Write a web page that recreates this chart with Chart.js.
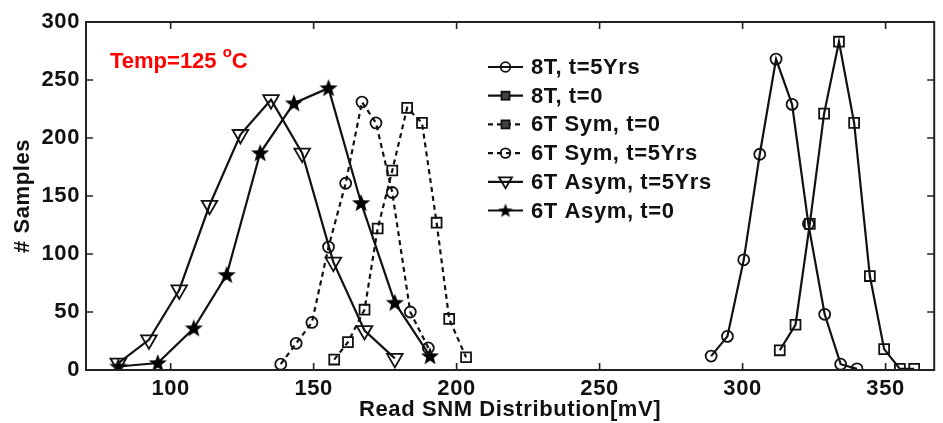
<!DOCTYPE html>
<html>
<head>
<meta charset="utf-8">
<script src="https://cdn.jsdelivr.net/npm/chart.js@4/dist/chart.umd.min.js"></script>
<style>
  html, body { margin: 0; padding: 0; background: #fff; overflow: hidden; }
  #wrap { width: 946px; height: 423px; }
</style>
</head>
<body>
<div id="wrap"><canvas id="snm-chart" width="946" height="423"></canvas></div>
<script>
// Datos: Read SNM (mV) y número de muestras
const seriesNames = ['8T, t=5Yrs', '8T, t=0', '6T Sym, t=0', '6T Sym, t=5Yrs', '6T Asym, t=5Yrs', '6T Asym, t=0'];

const snm8T5y = [289, 294.7, 300.4, 306, 311.7, 317.3, 323, 328.7, 334.3, 340];
const cnt8T5y = [12, 29, 95, 186, 268, 229, 126, 48, 5, 1];

const snm8T0 = [313, 318.5, 323.5, 328.5, 333.7, 339, 344.5, 349.5, 355, 360];
const cnt8T0 = [17, 39, 126, 221, 283, 213, 81, 18, 1, 1];

const snmSym0 = [157.2, 162, 167.8, 172.4, 177.5, 182.7, 187.9, 193, 197.4, 203.3];
const cntSym0 = [9, 24, 52, 122, 172, 226, 213, 127, 44, 11];

const snmSym5y = [138.5, 143.9, 149.4, 155.2, 161.2, 166.9, 171.8, 177.5, 183.8, 190.1];
const cntSym5y = [5, 23, 41, 106, 161, 231, 213, 153, 50, 19];

const snmAsym5y = [81.7, 92.4, 103, 113.6, 124.4, 135.1, 146, 156.9, 167.8, 178.4];
const cntAsym5y = [6, 26, 69, 142, 203, 233, 187, 93, 34, 10];

const snmAsym0 = [81.7, 95.5, 108.1, 119.6, 131.3, 143.1, 155.2, 166.6, 178.4, 190.7];
const cntAsym0 = [3, 6, 36, 82, 187, 230, 243, 144, 58, 12];

const xTicks = [100, 150, 200, 250, 300, 350];
const yTicks = [0, 50, 100, 150, 200, 250, 300];

const FONT_FAMILY = '"Liberation Sans", Arial, Helvetica, sans-serif';

// Estrella rellena de 5 puntas como imagen para pointStyle
function makeStar(size) {
  const c = document.createElement('canvas');
  c.width = size; c.height = size;
  const g = c.getContext('2d');
  const cx = size / 2, cy = size / 2 + 0.5;
  const ro = size / 2 - 0.5, ri = ro * 0.42;
  g.beginPath();
  for (let i = 0; i < 10; i++) {
    const r = i % 2 ? ri : ro;
    const a = -Math.PI / 2 + i * Math.PI / 5;
    g.lineTo(cx + r * Math.cos(a), cy + r * Math.sin(a));
  }
  g.closePath();
  g.fillStyle = '#000';
  g.fill();
  return c;
}
const starBig = makeStar(20);
const starSmall = makeStar(16);

const styles = [
  { pointStyle: 'circle', radius: 5.5, dash: [] },
  { pointStyle: 'rect', radius: 7, dash: [] },
  { pointStyle: 'rect', radius: 7, dash: [5, 4] },
  { pointStyle: 'circle', radius: 5.5, dash: [5, 4] },
  { pointStyle: 'triangle', radius: 9, rotation: 180, dash: [] },
  { pointStyle: starBig, radius: 10, dash: [] }
];

const xs = [snm8T5y, snm8T0, snmSym0, snmSym5y, snmAsym5y, snmAsym0];
const ys = [cnt8T5y, cnt8T0, cntSym0, cntSym5y, cntAsym5y, cntAsym0];

const datasets = seriesNames.map(function(name, i) {
  const st = styles[i];
  return {
    label: name,
    data: xs[i].map(function(v, j) { return { x: v, y: ys[i][j] }; }),
    borderColor: '#111',
    borderWidth: 2.2,
    borderDash: st.dash,
    tension: 0,
    fill: false,
    pointStyle: st.pointStyle,
    pointRadius: st.radius,
    pointRotation: st.rotation || 0,
    pointBorderColor: '#111',
    pointBorderWidth: 1.8,
    pointBackgroundColor: 'rgba(0,0,0,0)'
  };
});

// Un poco de espaciado entre letras, como en la figura original
const spacingPlugin = {
  id: 'spacing',
  beforeDraw(chart) {
    chart.ctx.letterSpacing = '0.6px';
  }
};

// Marco, marcas interiores, texto de temperatura y leyenda
const framePlugin = {
  id: 'frame',
  afterDraw(chart) {
    const ctx = chart.ctx;
    const a = chart.chartArea;
    const x = chart.scales.x, y = chart.scales.y;
    ctx.save();
    ctx.strokeStyle = '#222';
    ctx.lineWidth = 2;
    ctx.setLineDash([]);
    ctx.strokeRect(a.left, a.top, a.right - a.left, a.bottom - a.top);

    const len = 7;
    ctx.lineWidth = 1.6;
    ctx.beginPath();
    xTicks.forEach(function(v) {
      const px = x.getPixelForValue(v);
      ctx.moveTo(px, a.bottom); ctx.lineTo(px, a.bottom - len);
      ctx.moveTo(px, a.top); ctx.lineTo(px, a.top + len);
    });
    yTicks.forEach(function(v) {
      const py = y.getPixelForValue(v);
      ctx.moveTo(a.left, py); ctx.lineTo(a.left + len, py);
      ctx.moveTo(a.right, py); ctx.lineTo(a.right - len, py);
    });
    ctx.stroke();

    // Temp=125 °C
    ctx.fillStyle = '#ff0000';
    ctx.textBaseline = 'alphabetic';
    ctx.textAlign = 'left';
    ctx.letterSpacing = '0px';
    let tx = 110;
    ctx.font = 'bold 22px ' + FONT_FAMILY;
    ctx.fillText('Temp=125 ', tx, 68);
    tx += ctx.measureText('Temp=125 ').width;
    ctx.font = 'bold 15px ' + FONT_FAMILY;
    ctx.fillText('o', tx, 57);
    tx += ctx.measureText('o').width;
    ctx.font = 'bold 22px ' + FONT_FAMILY;
    ctx.fillText('C', tx, 68);

    // Leyenda
    const lx0 = 488, lx1 = 523, mx = 505.5, textX = 531;
    ctx.letterSpacing = '0.6px';
    ctx.font = 'bold 22px ' + FONT_FAMILY;
    ctx.textBaseline = 'middle';
    seriesNames.forEach(function(name, i) {
      const ly = 67 + i * 28.7;
      const st = styles[i];
      ctx.strokeStyle = '#111';
      ctx.lineWidth = 2.2;
      ctx.setLineDash(st.dash.length ? [5, 4] : []);
      ctx.beginPath();
      ctx.moveTo(lx0, ly); ctx.lineTo(lx1, ly);
      ctx.stroke();
      ctx.setLineDash([]);
      ctx.lineWidth = 1.8;
      ctx.beginPath();
      if (st.pointStyle === 'circle') {
        ctx.arc(mx, ly, 4.8, 0, Math.PI * 2);
        ctx.stroke();
      } else if (st.pointStyle === 'rect') {
        ctx.fillStyle = '#444';
        ctx.fillRect(mx - 4, ly - 4, 8, 8);
        ctx.strokeRect(mx - 4, ly - 4, 8, 8);
      } else if (st.pointStyle === 'triangle') {
        ctx.moveTo(mx - 6.5, ly - 4.5);
        ctx.lineTo(mx + 6.5, ly - 4.5);
        ctx.lineTo(mx, ly + 6.5);
        ctx.closePath();
        ctx.stroke();
      } else {
        ctx.drawImage(starSmall, mx - starSmall.width / 2, ly - starSmall.height / 2);
      }
      ctx.fillStyle = '#111';
      ctx.fillText(name, textX, ly + 1);
    });
    ctx.restore();
  }
};

document.addEventListener('DOMContentLoaded', function() {
  const tickFont = { family: FONT_FAMILY, size: 22, weight: 'bold' };
  new Chart(document.getElementById('snm-chart'), {
    type: 'line',
    data: { datasets: datasets },
    options: {
      responsive: false,
      animation: false,
      layout: { padding: { top: 22, right: 1, left: 0, bottom: 0 } },
      plugins: { legend: { display: false }, tooltip: { enabled: false } },
      scales: {
        x: {
          type: 'linear',
          min: 70.4,
          max: 367,
          afterFit: function(s) { s.height = 53; },
          afterBuildTicks: function(s) { s.ticks = xTicks.map(function(v) { return { value: v }; }); },
          grid: { display: false, drawTicks: false },
          border: { display: false },
          ticks: { font: tickFont, color: '#111', padding: 6, maxRotation: 0, autoSkip: false },
          title: { display: true, text: 'Read SNM Distribution[mV]', font: tickFont, color: '#111', padding: { top: 0, bottom: 0 } }
        },
        y: {
          type: 'linear',
          min: 0,
          max: 300,
          afterFit: function(s) { s.width = 86; },
          afterBuildTicks: function(s) { s.ticks = yTicks.map(function(v) { return { value: v }; }); },
          grid: { display: false, drawTicks: false },
          border: { display: false },
          ticks: { font: tickFont, color: '#111', padding: 6, autoSkip: false },
          title: { display: true, text: '# Samples', font: tickFont, color: '#111', padding: { top: 10, bottom: 0 } }
        }
      }
    },
    plugins: [spacingPlugin, framePlugin]
  });
});
</script>
</body>
</html>
